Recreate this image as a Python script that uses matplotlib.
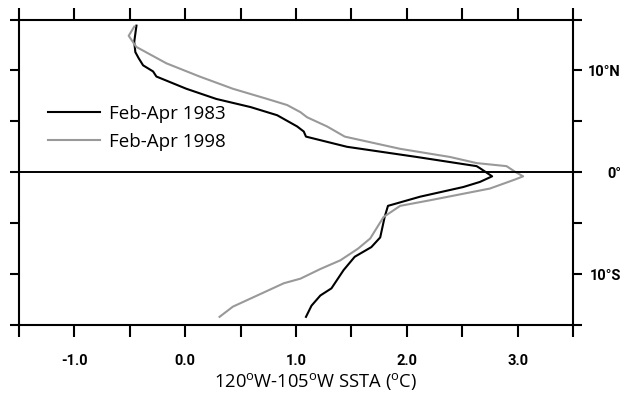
import matplotlib
matplotlib.use("Agg")
import matplotlib.pyplot as plt

# ---- data ----
lat_1983 = [14.4, 12.8, 11.8, 11.2, 10.5, 9.9, 9.4, 8.2, 7.2, 6.4, 5.6, 4.5, 4.0, 3.5,
            2.5, 1.5, 0.6, 0.4, -0.4, -0.95, -1.45, -2.4, -3.3, -4.4, -6.4, -7.35,
            -8.3, -9.6, -11.4, -12.1, -13.1, -14.2]
sst_1983 = [-0.44, -0.46, -0.45, -0.42, -0.38, -0.29, -0.26, 0.01, 0.28, 0.59, 0.83, 1.01, 1.07, 1.09,
            1.46, 2.09, 2.63, 2.66, 2.77, 2.66, 2.51, 2.12, 1.83, 1.80, 1.76, 1.68,
            1.53, 1.43, 1.32, 1.22, 1.14, 1.09]

lat_1998 = [14.3, 13.4, 12.6, 12.3, 10.7, 9.4, 8.2, 7.2, 6.6, 5.9, 5.4, 4.5, 3.5, 2.3,
            1.5, 0.9, 0.6, 0.03, -0.4, -0.7, -1.6, -2.75, -3.3, -4.4, -6.5, -7.5,
            -8.65, -9.5, -10.45, -10.9, -12.4, -13.2, -14.2]
sst_1998 = [-0.46, -0.51, -0.46, -0.44, -0.17, 0.13, 0.43, 0.74, 0.92, 1.04, 1.10, 1.28, 1.44, 1.94,
            2.39, 2.63, 2.90, 2.98, 3.05, 2.98, 2.75, 2.21, 1.94, 1.79, 1.67, 1.56,
            1.40, 1.22, 1.04, 0.89, 0.59, 0.43, 0.31]

series_labels = ["Feb-Apr 1983", "Feb-Apr 1998"]
x_ticks = [-1.5, -1.0, -0.5, 0.0, 0.5, 1.0, 1.5, 2.0, 2.5, 3.0, 3.5]
x_ticklabels = ["", "-1.0", "", "0.0", "", "1.0", "", "2.0", "", "3.0", ""]
y_ticks = [-15, -10, -5, 0, 5, 10, 15]
y_ticklabels = ["", "10°S", "", "0°", "", "10°N", ""]

# ---- style ----
plt.rcParams['mathtext.fontset'] = 'custom'
plt.rcParams['mathtext.rm'] = 'Open Sans'
tick_font = ['Roboto', 'DejaVu Sans']
text_font = ['Open Sans', 'DejaVu Sans']

fig = plt.figure(figsize=(6.2, 3.96), dpi=100)
ax = fig.add_axes([19/620, 1 - 325/396, (573-19)/620, (325-19.5)/396])

ax.plot(sst_1983, lat_1983, color='black', lw=1.5, label=series_labels[0])
ax.plot(sst_1998, lat_1998, color='#999999', lw=1.5, label=series_labels[1])
ax.axhline(0, color='black', lw=1.4)

ax.set_xlim(-1.5, 3.5)
ax.set_ylim(-15, 15)

for s in ax.spines.values():
    s.set_linewidth(1.5)

ax.set_xticks(x_ticks)
ax.set_xticklabels(x_ticklabels, family=tick_font, fontsize=10.5, fontweight='bold')
ax.tick_params(axis='x', direction='out', length=8.6, width=1.5, top=True, bottom=True, pad=12)

ax.set_yticks(y_ticks)
ax.set_yticklabels(y_ticklabels, family=tick_font, fontsize=10.5, fontweight='bold')
ax.tick_params(axis='y', direction='out', length=6.5, width=1.5, left=True, right=True,
               labelleft=False, labelright=True, pad=28)
for lab in ax.get_yticklabels():
    lab.set_horizontalalignment('right')

ax.set_xlabel(r'120$^{\mathrm{o}}$W-105$^{\mathrm{o}}$W SSTA ($^{\mathrm{o}}$C)',
              family=text_font, fontsize=13.2)
ax.xaxis.set_label_coords((315.5 - 19) / 554, -0.15)

leg = ax.legend(loc='upper left', bbox_to_anchor=(0.052, 0.72), frameon=False,
                prop={'family': text_font, 'size': 13.5}, handlelength=2.8,
                handletextpad=0.45, labelspacing=0.52, borderpad=0, borderaxespad=0)

fig.savefig('out.png', dpi=100)
